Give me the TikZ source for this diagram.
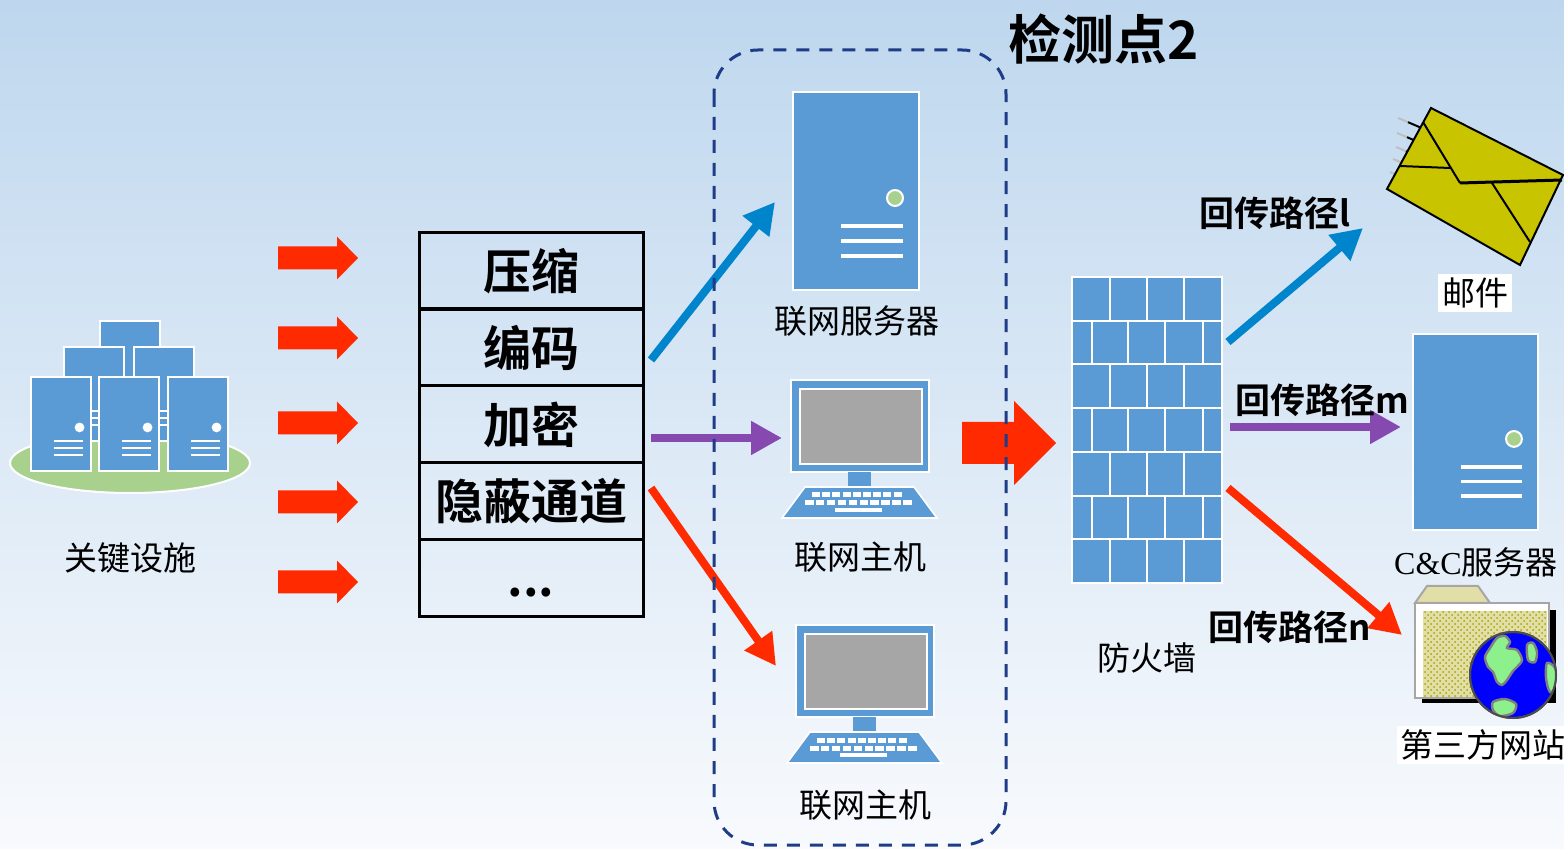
\documentclass[tikz,border=0pt]{standalone}
\usepackage{fontspec}
\setmainfont{Liberation Serif}
\newfontfamily\cjk{Noto Sans CJK SC}
\newfontfamily\cjkb{Noto Sans CJK SC Bold}
\usepackage{tikz}
\usetikzlibrary{arrows.meta,patterns}

\definecolor{srvblue}{RGB}{91,155,213}
\definecolor{padgreen}{RGB}{169,209,142}
\definecolor{hotred}{RGB}{255,42,0}
\definecolor{linkblue}{RGB}{0,132,204}
\definecolor{linkpurple}{RGB}{134,73,176}
\definecolor{zoneblue}{RGB}{31,60,136}
\definecolor{mailyellow}{RGB}{200,196,0}
\definecolor{scrgray}{RGB}{166,166,166}
\definecolor{folderkhaki}{RGB}{226,222,168}
\definecolor{landgreen}{RGB}{140,240,140}
\definecolor{bgtop}{RGB}{190,215,238}
\definecolor{bgbottom}{RGB}{248,250,253}

\tikzstyle{lbl} = [font=\cjk\fontsize{16.5}{18}\selectfont, inner sep=0pt]
\tikzstyle{cell} = [draw, line width=1.5pt, minimum width=112pt, minimum height=38.5pt, inner sep=0pt, outer sep=0pt, font=\cjkb\fontsize{24}{26}\selectfont]
\tikzstyle{route} = [font=\cjkb\fontsize{17.5}{19}\selectfont, inner sep=0pt]
\tikzstyle{link} = [line width=4pt, -{Triangle[length=15.5pt,width=16pt]}]
\tikzstyle{brick} = [white, line width=1pt]

\tikzset{
  pics/server/.style n args={2}{code={
    \begin{scope}[scale=#1]
      \filldraw[fill=srvblue, draw=white, line width=1pt] (0,0) rectangle (126,198);
      \filldraw[fill=#2, draw=white, line width=1pt] (102,106) circle (8);
      \foreach \y in {134,149,164}
        \fill[white] (48,\y-2) rectangle (110,\y+2);
    \end{scope}
  }},
  pics/desktop/.style={code={
    \filldraw[fill=srvblue, draw=white, line width=0.8pt] (0,0) rectangle (138,92);
    \filldraw[fill=scrgray, draw=white, line width=0.8pt] (9,9) rectangle (131,84);
    \fill[srvblue] (57,92) rectangle (80,107);
    \filldraw[fill=srvblue, draw=white, line width=0.8pt] (14,107) -- (123,107) -- (146,138) -- (-9,138) -- cycle;
    \foreach \i in {0,...,8}
      \fill[white] (21+\i*10.2,112.5) rectangle ++(8,5);
    \foreach \i in {0,...,9}
      \fill[white] (14+\i*10.9,120.5) rectangle ++(8.5,5);
    \fill[white] (44,128) rectangle (91,132);
  }}
}

\begin{document}
\begin{tikzpicture}[x=0.5pt,y=-0.5pt]
  \useasboundingbox (0,0) rectangle (1564,849);
  \fill[top color=bgtop, bottom color=bgbottom] (0,0) rectangle (1564,849);

  % key facilities
  \filldraw[fill=padgreen, draw=white, line width=1pt] (130,463) ellipse (120 and 30);
  \pic at (100,321) {server={0.476}{white}};
  \pic at (64,347) {server={0.476}{white}};
  \pic at (134,347) {server={0.476}{white}};
  \pic at (31,377) {server={0.476}{white}};
  \pic at (99,377) {server={0.476}{white}};
  \pic at (168,377) {server={0.476}{white}};
  \node[lbl] (kf) at (130,558) {关键设施};

  % fat arrows into the stack
  \foreach \y in {258,338,423,502,582}
    \fill[hotred] (278,\y-11.5) -- (337,\y-11.5) -- (337,\y-21.5) -- (358,\y)
      -- (337,\y+21.5) -- (337,\y+11.5) -- (278,\y+11.5) -- cycle;

  % processing stack
  \node[cell] (zip) at (531,271) {压缩};
  \node[cell] (code) at (531,347.5) {编码};
  \node[cell] (crypt) at (531,424.5) {加密};
  \node[cell] (covert) at (531,501.5) {隐蔽通道};
  \node[cell] (more) at (531,578.5) {\vphantom{隐}...};

  % big arrow towards the firewall
  \fill[hotred] (962,422) -- (1014,422) -- (1014,401) -- (1056,443) -- (1014,485)
    -- (1014,464) -- (962,464) -- cycle;

  % hosts inside the zone
  \pic at (793,92) {server={1}{padgreen}};
  \node[lbl] (netsrv) at (857,321) {联网服务器};
  \pic at (791,380) {desktop};
  \node[lbl] (host1) at (860,557) {联网主机};
  \pic at (796,625) {desktop};
  \node[lbl] (host2) at (865,805) {联网主机};

  \coordinate (codeOut) at (651,360);
  \coordinate (srvIn) at (775,202);
  \coordinate (cryptOut) at (651,438);
  \coordinate (host1In) at (782,438);
  \coordinate (covertOut) at (651,488);
  \coordinate (host2In) at (776,666);
  \draw[link, linkblue] (codeOut) -- (srvIn);
  \draw[link, linkpurple] (cryptOut) -- (host1In);
  \draw[link, hotred] (covertOut) -- (host2In);

  % detection zone
  \draw[zoneblue, line width=1.5pt, dash pattern=on 6.5pt off 5pt, rounded corners=22pt]
    (714,50) rectangle (1006,845);
  \node[font=\cjkb\fontsize{26.5}{28}\selectfont, inner sep=0pt] (probe) at (1104,39) {检测点2};

  % firewall
  \fill[srvblue] (1072,277) rectangle (1222,583);
  \draw[brick] (1072,277) rectangle (1222,583);
  \foreach \r in {1,...,6}
    \draw[brick] (1072,277+\r*43.71) -- (1222,277+\r*43.71);
  \foreach \r in {0,2,4,6}
    \foreach \x in {1110,1147,1184}
      \draw[brick] (\x,277+\r*43.71) -- ++(0,43.71);
  \foreach \r in {1,3,5}
    \foreach \x in {1092,1128,1165,1203}
      \draw[brick] (\x,277+\r*43.71) -- ++(0,43.71);
  \node[lbl] (fw) at (1147,658) {防火墙};

  % return paths
  \coordinate (fwTop) at (1228,342);
  \coordinate (mailIn) at (1363,228);
  \coordinate (fwMid) at (1230,427);
  \coordinate (ccIn) at (1401,427);
  \coordinate (fwLow) at (1228,488);
  \coordinate (webIn) at (1402,635);
  \draw[link, linkblue] (fwTop) -- (mailIn);
  \draw[link, linkpurple] (fwMid) -- (ccIn);
  \draw[link, hotred] (fwLow) -- (webIn);
  \node[route] (pathL) at (1275,213) {回传路径l};
  \node[route] (pathM) at (1322,400) {回传路径m};
  \node[route] (pathN) at (1290,627) {回传路径n};

  % mail
  \foreach \a/\b in {1398/118, 1397/133, 1396/147, 1393/159, 1390/172} {
    \draw[gray!50, line width=1pt] (\a,\b) -- ++(12,5);
    \draw[black, line width=1pt] (\a+10,\b+4.2) -- ++(14,6);
  }
  \filldraw[fill=mailyellow, draw=black, line width=1pt]
    (1431,108) -- (1563,175) -- (1520,265) -- (1387,189) -- cycle;
  \draw[line width=1pt] (1423,122) -- (1460,183);
  \draw[line width=1.5pt] (1460,183) -- (1562,180);
  \draw[line width=1pt] (1400,166) -- (1450,168);
  \draw[line width=1pt] (1492,183) -- (1530,242);
  \node[lbl, fill=white, inner sep=2pt] (mail) at (1475,293) {邮件};

  % C&C server
  \pic at (1413,334) {server={0.99}{padgreen}};
  \node[lbl, font=\cjk\fontsize{16}{18}\selectfont] (cc) at (1476,562) {{\rmfamily C\&C}服务器};

  % third-party site
  \fill[black] (1422,610) rectangle (1556,703);
  \filldraw[fill=folderkhaki, draw=gray!70, line width=1pt]
    (1415,603) -- (1427,586) -- (1478,586) -- (1490,603) -- cycle;
  \filldraw[fill=white, draw=gray!70, line width=1pt] (1415,603) rectangle (1549,698);
  \fill[folderkhaki] (1423,611) rectangle (1547,697);
  \fill[pattern=crosshatch dots, pattern color=olive!70] (1423,611) rectangle (1547,697);
  \filldraw[fill=blue, draw=gray!60!black, line width=1pt] (1513,675) circle (43);
  \begin{scope}
    \clip (1513,675) circle (43);
    \filldraw[fill=landgreen, draw=gray, line width=1.2pt] plot[smooth cycle] coordinates
      {(1497,638) (1505,636) (1510,642) (1507,648) (1517,650) (1522,660) (1517,667)
       (1513,671) (1507,680) (1502,685) (1497,682) (1493,672) (1488,667) (1485,657) (1490,648)};
    \filldraw[fill=landgreen, draw=gray, line width=1.2pt] plot[smooth cycle] coordinates
      {(1527,645) (1533,643) (1537,652) (1535,662) (1528,660)};
    \filldraw[fill=landgreen, draw=gray, line width=1.2pt] plot[smooth cycle] coordinates
      {(1547,663) (1555,668) (1558,685) (1550,692) (1546,678)};
    \filldraw[fill=landgreen, draw=gray, line width=1.2pt] plot[smooth cycle] coordinates
      {(1493,702) (1505,699) (1516,704) (1513,713) (1500,716) (1493,710)};
  \end{scope}
  \draw[gray!60!black, line width=1pt] (1513,675) circle (43);
  \node[lbl, fill=white, inner sep=2pt] (web) at (1483,745) {第三方网站};
\end{tikzpicture}
\end{document}
